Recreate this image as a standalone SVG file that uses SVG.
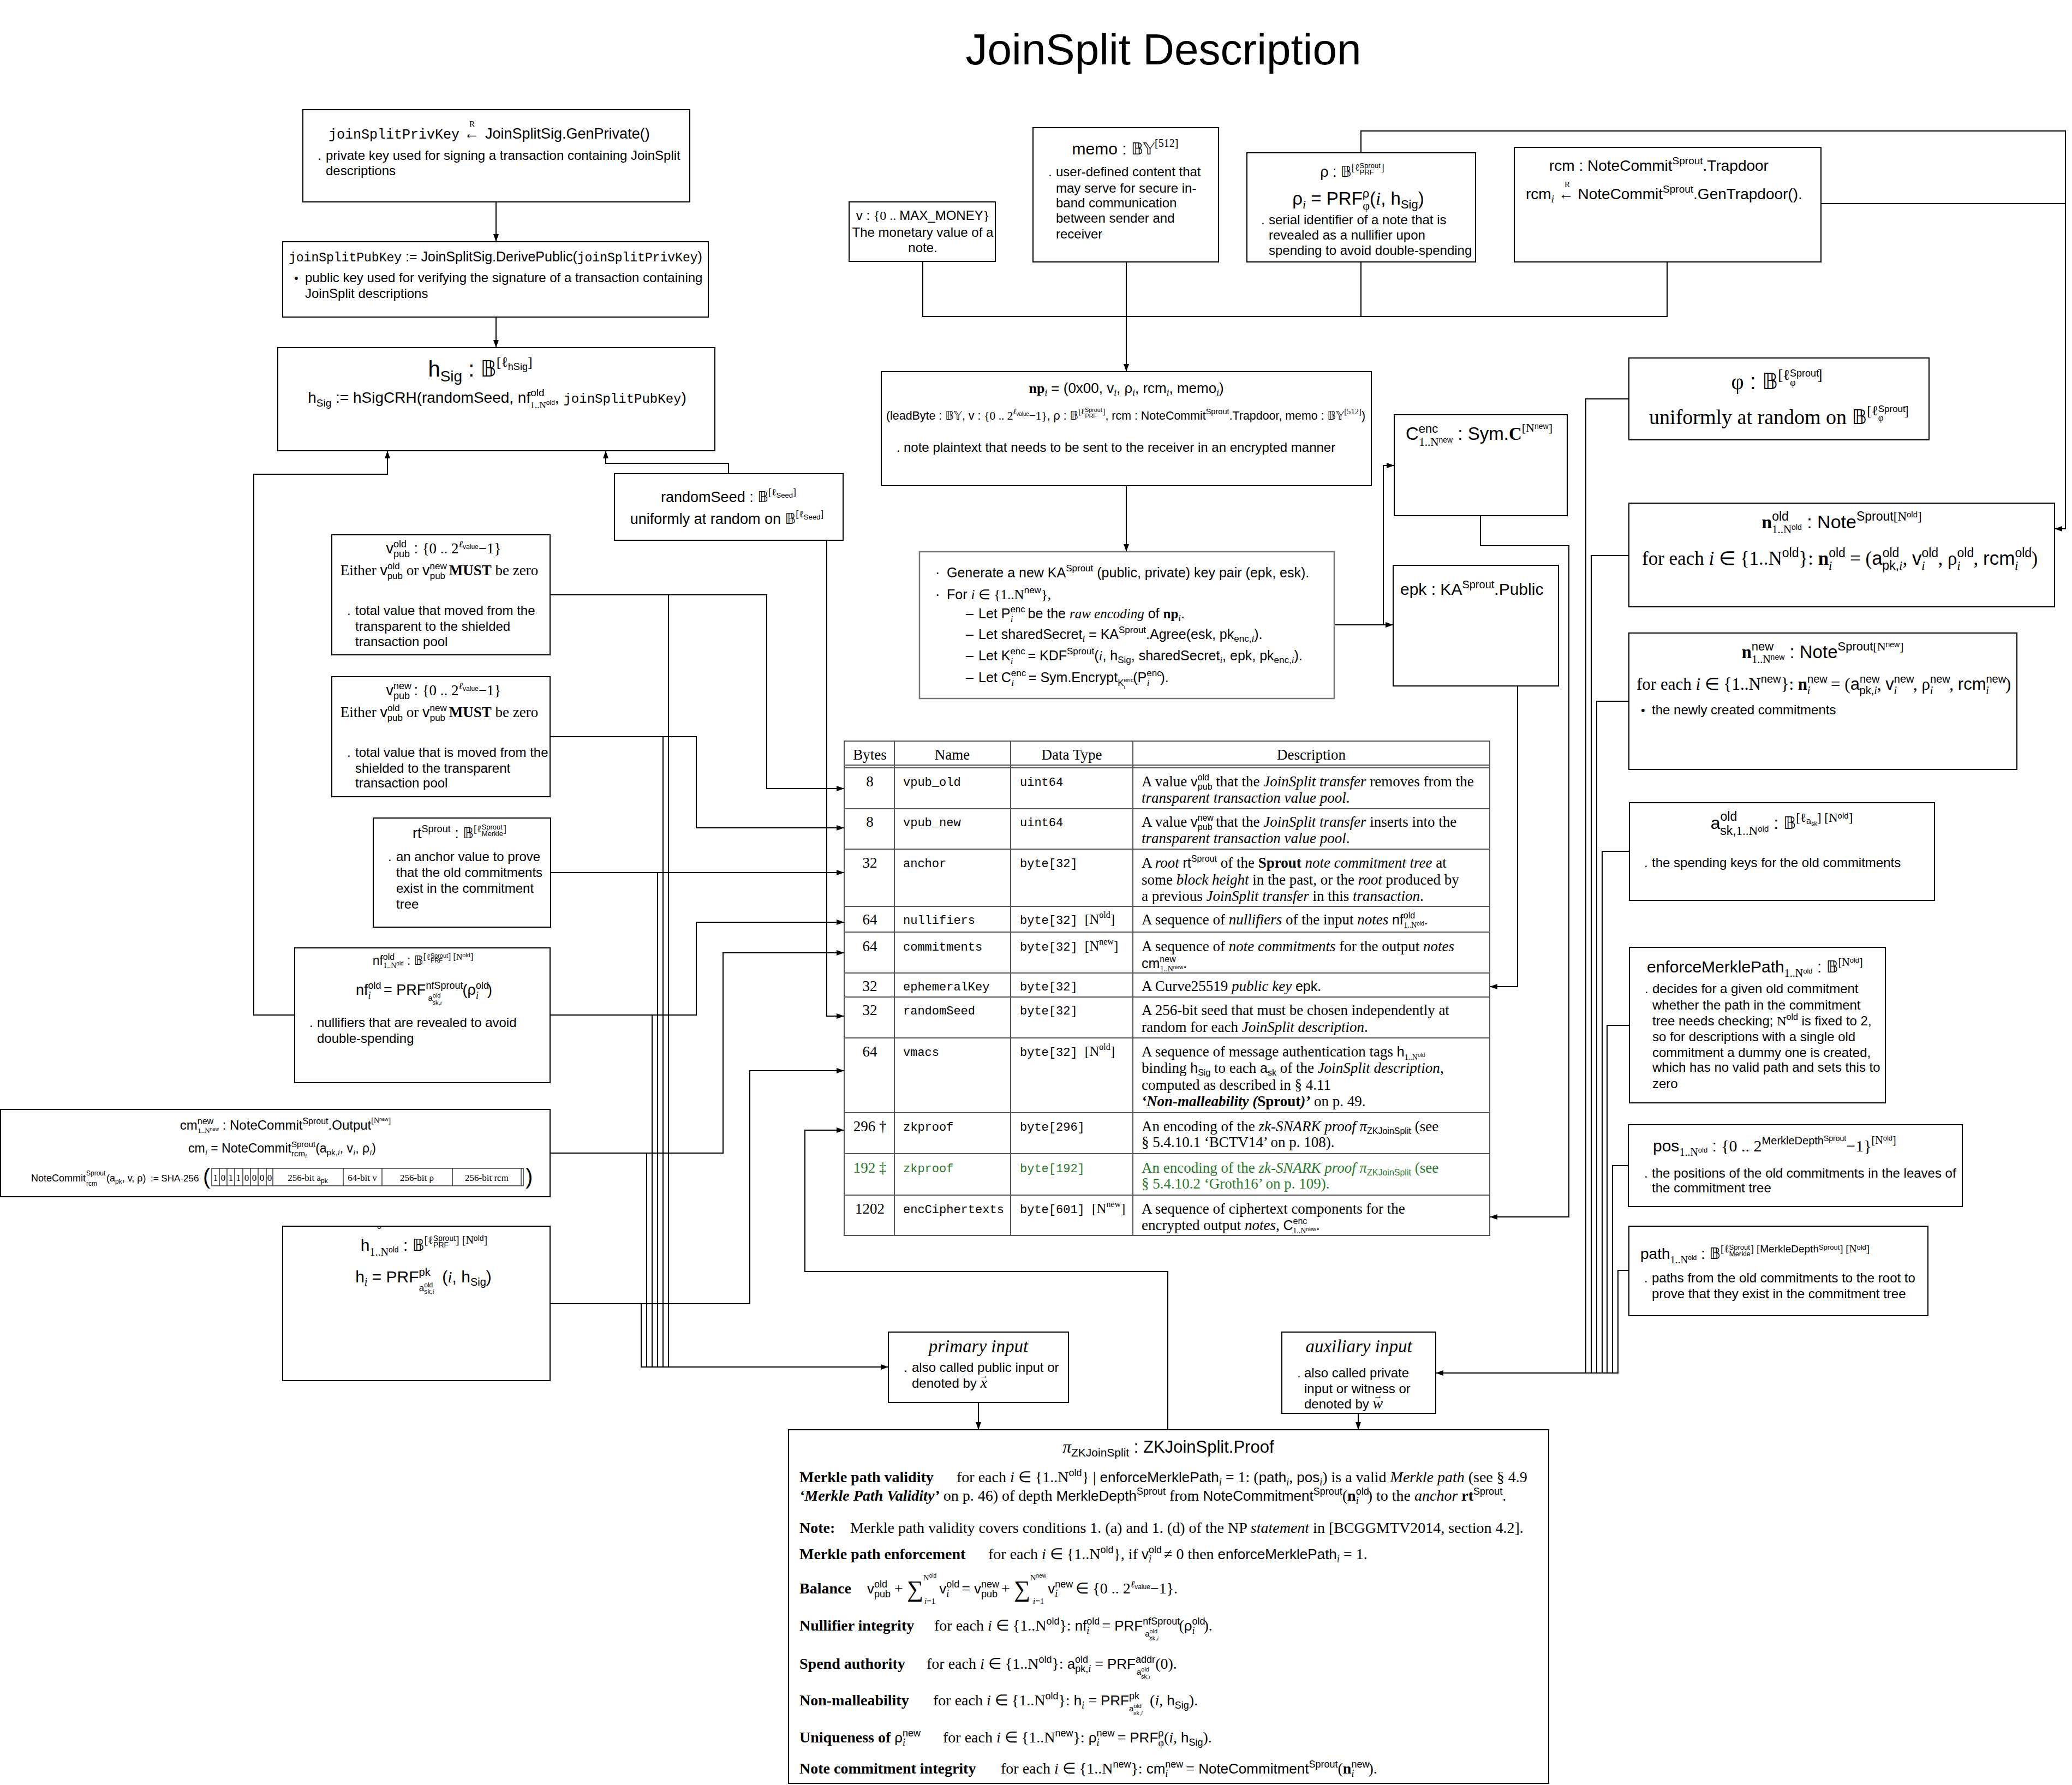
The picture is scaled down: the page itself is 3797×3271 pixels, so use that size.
<svg xmlns="http://www.w3.org/2000/svg" width="3797" height="3271" viewBox="0 0 3797 3271">
<defs>
<style>
.box{fill:#fff;stroke:#000;stroke-width:2}
.gbox{fill:#fff;stroke:#777;stroke-width:2.5}
.ln{fill:none;stroke:#000;stroke-width:2}
.tl{fill:none;stroke:#555;stroke-width:2}
.s{font-family:"Liberation Sans",Arial,sans-serif}
.r{font-family:"Liberation Serif","Times New Roman",serif}
.mo{font-family:"Liberation Mono","Courier New",monospace}
.ds{font-family:"DejaVu Sans","Noto Sans",sans-serif}
.it{font-style:italic}
.b{font-weight:bold}
.g{fill:#2b7a2b}
</style>
<marker id="ah" markerUnits="userSpaceOnUse" markerWidth="14" markerHeight="10" refX="14" refY="5" orient="auto"><path d="M0,0L14,5L0,10z" fill="#000"/></marker>
</defs>
<rect x="0" y="0" width="3797" height="3271" fill="#fff"/>
<text class="s" x="2132" y="118" text-anchor="middle" font-size="80">JoinSplit Description</text>

<g id="connectors">
<polyline class="ln" points="909,370 909,443" marker-end="url(#ah)"/>
<polyline class="ln" points="909,581 909,637" marker-end="url(#ah)"/>
<polyline class="ln" points="1691,480 1691,580 3055,580 3055,480"/>
<polyline class="ln" points="2494,480 2494,580"/>
<polyline class="ln" points="2064,480 2064,681" marker-end="url(#ah)"/>
<polyline class="ln" points="2494,280 2494,240 3785,240 3785,969 3765,969" marker-end="url(#ah)"/>
<polyline class="ln" points="3337,373 3785,373"/>
<polyline class="ln" points="2064,890 2064,1011" marker-end="url(#ah)"/>
<polyline class="ln" points="2445,1145 2553,1145" marker-end="url(#ah)"/>
<polyline class="ln" points="2535,1145 2535,853 2555,853" marker-end="url(#ah)"/>
<polyline class="ln" points="2713,945 2713,1000 2875,1000 2875,2230 2730,2230" marker-end="url(#ah)"/>
<polyline class="ln" points="2781,1257 2781,1808 2730,1808" marker-end="url(#ah)"/>
<polyline class="ln" points="540,1860 465,1860 465,869 710,869 710,826" marker-end="url(#ah)"/>
<polyline class="ln" points="1335,868 1335,849 1110,849 1110,826" marker-end="url(#ah)"/>
<polyline class="ln" points="1008,1090 1405,1090 1405,1445 1547,1445" marker-end="url(#ah)"/>
<polyline class="ln" points="1008,1350 1276,1350 1276,1517 1547,1517" marker-end="url(#ah)"/>
<polyline class="ln" points="1008,1599 1547,1599" marker-end="url(#ah)"/>
<polyline class="ln" points="1008,1860 1276,1860 1276,1690 1547,1690" marker-end="url(#ah)"/>
<polyline class="ln" points="1008,2113 1325,2113 1325,1746 1547,1746" marker-end="url(#ah)"/>
<polyline class="ln" points="1515,990 1515,1862 1547,1862" marker-end="url(#ah)"/>
<polyline class="ln" points="1008,2389 1374,2389 1374,1962 1547,1962" marker-end="url(#ah)"/>
<polyline class="ln" points="2140,2620 2140,2330 1475,2330 1475,2071 1547,2071" marker-end="url(#ah)"/>
<polyline class="ln" points="1225,1090 1225,2505"/>
<polyline class="ln" points="1215,1350 1215,2505"/>
<polyline class="ln" points="1205,1599 1205,2505"/>
<polyline class="ln" points="1195,1860 1195,2505"/>
<polyline class="ln" points="1185,2113 1185,2505"/>
<polyline class="ln" points="1175,2389 1175,2505 1628,2505" marker-end="url(#ah)"/>
<polyline class="ln" points="1793,2570 1793,2620" marker-end="url(#ah)"/>
<polyline class="ln" points="2489,2590 2489,2620" marker-end="url(#ah)"/>
<polyline class="ln" points="2985,731 2906,731 2906,2516"/>
<polyline class="ln" points="2985,1018 2916,1018 2916,2516"/>
<polyline class="ln" points="2985,1285 2926,1285 2926,2516"/>
<polyline class="ln" points="2986,1560 2936,1560 2936,2516"/>
<polyline class="ln" points="2986,1879 2945,1879 2945,2516"/>
<polyline class="ln" points="2984,2136 2955,2136 2955,2516"/>
<polyline class="ln" points="2985,2328 2965,2328 2965,2516 2631,2516" marker-end="url(#ah)"/>
</g>

<g id="privkey">
<rect class="box" x="555" y="201" width="709" height="169"/>
<text class="mo" x="602" y="254" font-size="25">joinSplitPrivKey</text>
<text class="s" x="850" y="254" font-size="28">←</text>
<text class="r" x="860" y="232" font-size="15">R</text>
<text class="s" x="889" y="254" font-size="27">JoinSplitSig.GenPrivate()</text>
<text class="s" x="582" y="293" font-size="24">.</text>
<text class="s" x="597" y="293" font-size="24">private key used for signing a transaction containing JoinSplit</text>
<text class="s" x="597" y="321" font-size="24">descriptions</text>
</g>

<g id="pubkey">
<rect class="box" x="518" y="443" width="780" height="138"/>
<text class="s" x="529" y="479" font-size="25"><tspan class="mo" font-size="23">joinSplitPubKey</tspan> := JoinSplitSig.DerivePublic(<tspan class="mo" font-size="23">joinSplitPrivKey</tspan>)</text>
<text class="s" x="539" y="517" font-size="22">•</text>
<text class="s" x="559" y="517" font-size="24">public key used for verifying the signature of a transaction containing</text>
<text class="s" x="559" y="546" font-size="24">JoinSplit descriptions</text>
</g>

<g id="hsig">
<rect class="box" x="509" y="637" width="801" height="189"/>
<text class="s" x="880" y="690" text-anchor="middle" font-size="40">h<tspan font-size="28" dy="9">Sig</tspan><tspan dy="-9"> : </tspan><tspan class="ds">𝔹</tspan><tspan class="r" font-size="26" dy="-18">[ℓ</tspan><tspan font-size="18" dy="6">hSig</tspan><tspan class="r" font-size="26" dy="-6">]</tspan></text>
<text class="s" x="911" y="738" text-anchor="middle" font-size="28">h<tspan font-size="19" dy="7">Sig</tspan><tspan dy="-7"> := hSigCRH(randomSeed, nf</tspan><tspan font-size="19" dy="-12">old</tspan><tspan class="r" font-size="17" dx="-26" dy="22">1..N</tspan><tspan font-size="12" dy="-6">old</tspan><tspan dy="-4">, </tspan><tspan class="mo" font-size="24">joinSplitPubKey</tspan>)</text>
</g>

<g id="randomseed">
<rect class="box" x="1126" y="868" width="419" height="122"/>
<text class="s" x="1335" y="920" text-anchor="middle" font-size="27">randomSeed : <tspan class="ds">𝔹</tspan><tspan class="r" font-size="18" dy="-12">[ℓ</tspan><tspan font-size="13" dy="4">Seed</tspan><tspan class="r" font-size="18" dy="-4">]</tspan></text>
<text class="s" x="1332" y="960" text-anchor="middle" font-size="27">uniformly at random on <tspan class="ds">𝔹</tspan><tspan class="r" font-size="18" dy="-12">[ℓ</tspan><tspan font-size="13" dy="4">Seed</tspan><tspan class="r" font-size="18" dy="-4">]</tspan></text>
</g>

<g id="vpubold">
<rect class="box" x="608" y="980" width="400" height="220"/>
<text class="s" x="813" y="1014" text-anchor="middle" font-size="27">v<tspan font-size="18" dy="-11">old</tspan><tspan font-size="18" dx="-24" dy="18">pub</tspan><tspan dy="-7"> : </tspan><tspan class="r">{0 .. 2</tspan><tspan class="r it" font-size="18" dy="-11">ℓ</tspan><tspan font-size="12" dy="3">value</tspan><tspan class="r" dy="8">−1}</tspan></text>
<text class="r" x="805" y="1054" text-anchor="middle" font-size="27">Either <tspan class="s">v</tspan><tspan class="s" font-size="17" dy="-11">old</tspan><tspan class="s" font-size="17" dx="-23" dy="18">pub</tspan><tspan dy="-7"> or </tspan><tspan class="s">v</tspan><tspan class="s" font-size="17" dy="-11">new</tspan><tspan class="s" font-size="17" dx="-31" dy="18">pub</tspan><tspan dy="-7"> </tspan><tspan class="b">MUST</tspan> be zero</text>
<text class="s" x="636" y="1127" font-size="24">.</text>
<text class="s" x="651" y="1127" font-size="24">total value that moved from the</text>
<text class="s" x="651" y="1156" font-size="24">transparent to the shielded</text>
<text class="s" x="651" y="1184" font-size="24">transaction pool</text>
</g>

<g id="vpubnew">
<rect class="box" x="608" y="1240" width="400" height="220"/>
<text class="s" x="813" y="1274" text-anchor="middle" font-size="27">v<tspan font-size="18" dy="-11">new</tspan><tspan font-size="18" dx="-33" dy="18">pub</tspan><tspan dy="-7"> : </tspan><tspan class="r">{0 .. 2</tspan><tspan class="r it" font-size="18" dy="-11">ℓ</tspan><tspan font-size="12" dy="3">value</tspan><tspan class="r" dy="8">−1}</tspan></text>
<text class="r" x="805" y="1314" text-anchor="middle" font-size="27">Either <tspan class="s">v</tspan><tspan class="s" font-size="17" dy="-11">old</tspan><tspan class="s" font-size="17" dx="-23" dy="18">pub</tspan><tspan dy="-7"> or </tspan><tspan class="s">v</tspan><tspan class="s" font-size="17" dy="-11">new</tspan><tspan class="s" font-size="17" dx="-31" dy="18">pub</tspan><tspan dy="-7"> </tspan><tspan class="b">MUST</tspan> be zero</text>
<text class="s" x="636" y="1387" font-size="24">.</text>
<text class="s" x="651" y="1387" font-size="24">total value that is moved from the</text>
<text class="s" x="651" y="1416" font-size="24">shielded to the transparent</text>
<text class="s" x="651" y="1443" font-size="24">transaction pool</text>
</g>

<g id="rt">
<rect class="box" x="684" y="1499" width="325" height="200"/>
<text class="s" x="842" y="1536" text-anchor="middle" font-size="27">rt<tspan font-size="18" dy="-11">Sprout</tspan><tspan dy="11"> : </tspan><tspan class="ds">𝔹</tspan><tspan class="r" font-size="18" dy="-11">[ℓ</tspan><tspan font-size="13" dy="-5">Sprout</tspan><tspan font-size="13" dx="-38" dy="12">Merkle</tspan><tspan class="r" font-size="18" dy="-7">]</tspan></text>
<text class="s" x="711" y="1578" font-size="24">.</text>
<text class="s" x="726" y="1578" font-size="24">an anchor value to prove</text>
<text class="s" x="726" y="1607" font-size="24">that the old commitments</text>
<text class="s" x="726" y="1636" font-size="24">exist in the commitment</text>
<text class="s" x="726" y="1665" font-size="24">tree</text>
</g>

<g id="nf">
<rect class="box" x="540" y="1737" width="468" height="247"/>
<text class="s" x="775" y="1768" text-anchor="middle" font-size="23">nf<tspan font-size="16" dy="-9">old</tspan><tspan class="r" font-size="14" dx="-21" dy="15">1..N</tspan><tspan font-size="10" dy="-5">old</tspan><tspan dy="-1"> : </tspan><tspan class="ds">𝔹</tspan><tspan class="r" font-size="16" dy="-9">[ℓ</tspan><tspan font-size="11" dy="-4">Sprout</tspan><tspan font-size="11" dx="-32" dy="9">PRF</tspan><tspan class="r" font-size="16" dx="10" dy="-5">] [N</tspan><tspan font-size="11" dy="-5">old</tspan><tspan class="r" font-size="16" dy="5">]</tspan></text>
<text class="s" x="777" y="1823" text-anchor="middle" font-size="27">nf<tspan font-size="18" dy="-11">old</tspan><tspan class="r it" font-size="18" dx="-24" dy="18">i</tspan><tspan dx="16" dy="-7"> = PRF</tspan><tspan font-size="18" dy="-11">nfSprout</tspan><tspan font-size="15" dx="-64" dy="22">a</tspan><tspan font-size="11" dy="-6">old</tspan><tspan font-size="11" dx="-15" dy="13">sk,</tspan><tspan class="r it" font-size="11">i</tspan><tspan dx="38" dy="-18">(ρ</tspan><tspan font-size="18" dy="-11">old</tspan><tspan class="r it" font-size="18" dx="-24" dy="18">i</tspan><tspan dx="16" dy="-7">)</tspan></text>
<text class="s" x="567" y="1882" font-size="24">.</text>
<text class="s" x="581" y="1882" font-size="24">nullifiers that are revealed to avoid</text>
<text class="s" x="581" y="1911" font-size="24">double-spending</text>
</g>

<g id="cm">
<rect class="box" x="1" y="2033" width="1007" height="160"/>
<text class="s" x="523" y="2070" text-anchor="middle" font-size="24">cm<tspan font-size="16" dy="-10">new</tspan><tspan class="r" font-size="13" dx="-29" dy="16">1..N</tspan><tspan font-size="9" dy="-4">new</tspan><tspan dy="-2"> : NoteCommit</tspan><tspan font-size="16" dy="-10">Sprout</tspan><tspan dy="10">.Output</tspan><tspan class="r" font-size="14" dy="-12">[N</tspan><tspan font-size="9" dy="-4">new</tspan><tspan class="r" font-size="14" dy="4">]</tspan></text>
<text class="s" x="517" y="2112" text-anchor="middle" font-size="23">cm<tspan class="r it" font-size="15" dy="5">i</tspan><tspan dy="-5"> = NoteCommit</tspan><tspan font-size="15" dy="-10">Sprout</tspan><tspan font-size="15" dx="-44" dy="17">rcm</tspan><tspan class="r it" font-size="11" dy="3">i</tspan><tspan dx="16" dy="-10">(a</tspan><tspan font-size="15" dy="5">pk,</tspan><tspan class="r it" font-size="15">i</tspan><tspan dy="-5">, v</tspan><tspan class="r it" font-size="15" dy="5">i</tspan><tspan dy="-5">, ρ</tspan><tspan class="r it" font-size="15" dy="5">i</tspan><tspan dy="-5">)</tspan></text>
<text class="s" x="57" y="2165" font-size="18">NoteCommit</text>
<text class="s" x="158" y="2154" font-size="12">Sprout</text>
<text class="s" x="158" y="2173" font-size="12">rcm</text>
<text class="s" x="195" y="2165" font-size="18">(a<tspan font-size="12" dy="4">pk</tspan><tspan dy="-4">, v, ρ)</tspan></text>
<text class="s" x="276" y="2165" font-size="17">:= SHA-256</text>
<text class="s" x="372" y="2170" font-size="40">(</text>
<rect x="388" y="2141" width="571" height="32" fill="none" stroke="#333" stroke-width="1.5"/>
<path d="M402,2141V2173M416,2141V2173M430,2141V2173M445,2141V2173M459,2141V2173M473,2141V2173M488,2141V2173M500,2141V2173M629,2141V2173M700,2141V2173M829,2141V2173M955,2141V2173" stroke="#333" stroke-width="1.5" fill="none"/>
<g class="r" font-size="17" text-anchor="middle">
<text x="395" y="2164">1</text><text x="409" y="2164">0</text><text x="423" y="2164">1</text><text x="437" y="2164">1</text><text x="452" y="2164">0</text><text x="466" y="2164">0</text><text x="480" y="2164">0</text><text x="494" y="2164">0</text>
<text x="564" y="2164">256-bit a<tspan class="s" font-size="12" dy="4">pk</tspan></text>
<text x="664" y="2164">64-bit v</text>
<text x="764" y="2164">256-bit ρ</text>
<text x="892" y="2164">256-bit rcm</text>
</g>
<text class="s" x="963" y="2170" font-size="40">)</text>
</g>

<g id="h">
<rect class="box" x="518" y="2247" width="490" height="283"/>
<text class="s" x="692" y="2264" font-size="20">˘</text>
<text class="s" x="777" y="2292" text-anchor="middle" font-size="30">h<tspan class="r" font-size="20" dy="9">1..N</tspan><tspan font-size="14" dy="-6">old</tspan><tspan dy="-3"> : </tspan><tspan class="ds">𝔹</tspan><tspan class="r" font-size="20" dy="-13">[ℓ</tspan><tspan font-size="14" dy="-5">Sprout</tspan><tspan font-size="14" dx="-41" dy="12">PRF</tspan><tspan class="r" font-size="20" dx="13" dy="-7">] [N</tspan><tspan font-size="14" dy="-5">old</tspan><tspan class="r" font-size="20" dy="5">]</tspan></text>
<text class="s" x="776" y="2350" text-anchor="middle" font-size="30">h<tspan class="r it" font-size="20" dy="6">i</tspan><tspan dy="-6"> = PRF</tspan><tspan font-size="20" dy="-12">pk</tspan><tspan font-size="17" dx="-21" dy="28">a</tspan><tspan font-size="12" dy="-7">old</tspan><tspan font-size="12" dx="-16" dy="12">sk,</tspan><tspan class="r it" font-size="12">i</tspan><tspan dx="6" dy="-21"> (</tspan><tspan class="r it">i</tspan>, h<tspan font-size="20" dy="6">Sig</tspan><tspan dy="-6">)</tspan></text>
</g>

<g id="v">
<rect class="box" x="1556" y="370" width="268" height="109"/>
<text class="s" x="1691" y="403" text-anchor="middle" font-size="24">v : <tspan class="r">{0 .. </tspan>MAX_MONEY<tspan class="r">}</tspan></text>
<text class="s" x="1691" y="434" text-anchor="middle" font-size="24">The monetary value of a</text>
<text class="s" x="1691" y="462" text-anchor="middle" font-size="24">note.</text>
</g>

<g id="memo">
<rect class="box" x="1893" y="234" width="340" height="246"/>
<text class="s" x="2062" y="283" text-anchor="middle" font-size="30">memo : <tspan class="ds">𝔹𝕐</tspan><tspan class="r" font-size="20" dy="-14">[512]</tspan></text>
<text class="s" x="1921" y="323" font-size="24">.</text>
<text class="s" x="1935" y="323" font-size="24">user-defined content that</text>
<text class="s" x="1935" y="353" font-size="24">may serve for secure in-</text>
<text class="s" x="1935" y="380" font-size="24">band communication</text>
<text class="s" x="1935" y="408" font-size="24">between sender and</text>
<text class="s" x="1935" y="437" font-size="24">receiver</text>
</g>

<g id="rho">
<rect class="box" x="2285" y="280" width="419" height="200"/>
<text class="s" x="2478" y="324" text-anchor="middle" font-size="27">ρ : <tspan class="ds">𝔹</tspan><tspan class="r" font-size="18" dy="-11">[ℓ</tspan><tspan font-size="13" dy="-5">Sprout</tspan><tspan font-size="13" dx="-38" dy="12">PRF</tspan><tspan class="r" font-size="18" dx="13" dy="-7">]</tspan></text>
<text class="s" x="2489" y="375" text-anchor="middle" font-size="33">ρ<tspan class="r it" font-size="22" dy="7">i</tspan><tspan dy="-7"> = PRF</tspan><tspan font-size="22" dy="-13">ρ</tspan><tspan class="r" font-size="22" dx="-12" dy="22">φ</tspan><tspan dy="-9">(</tspan><tspan class="r it">i</tspan>, h<tspan font-size="22" dy="7">Sig</tspan><tspan dy="-7">)</tspan></text>
<text class="s" x="2311" y="411" font-size="24">.</text>
<text class="s" x="2325" y="411" font-size="24">serial identifier of a note that is</text>
<text class="s" x="2325" y="439" font-size="24">revealed as a nullifier upon</text>
<text class="s" x="2325" y="467" font-size="24">spending to avoid double-spending</text>
</g>

<g id="rcm">
<rect class="box" x="2775" y="270" width="562" height="210"/>
<text class="s" x="3040" y="313" text-anchor="middle" font-size="28">rcm : NoteCommit<tspan font-size="19" dy="-12">Sprout</tspan><tspan dy="12">.Trapdoor</tspan></text>
<text class="s" x="2796" y="365" font-size="28">rcm<tspan class="r it" font-size="19" dy="6">i</tspan><tspan dy="-6"> ← NoteCommit</tspan><tspan font-size="19" dy="-12">Sprout</tspan><tspan dy="12">.GenTrapdoor().</tspan></text>
<text class="r" x="2867" y="343" font-size="15">R</text>
</g>

<g id="np">
<rect class="box" x="1615" y="681" width="898" height="209"/>
<text class="s" x="2064" y="720" text-anchor="middle" font-size="26"><tspan class="r b">np</tspan><tspan class="r it" font-size="17" dy="5">i</tspan><tspan dy="-5"> = (0x00, v</tspan><tspan class="r it" font-size="17" dy="5">i</tspan><tspan dy="-5">, ρ</tspan><tspan class="r it" font-size="17" dy="5">i</tspan><tspan dy="-5">, rcm</tspan><tspan class="r it" font-size="17" dy="5">i</tspan><tspan dy="-5">, memo</tspan><tspan class="r it" font-size="17" dy="5">i</tspan><tspan dy="-5">)</tspan></text>
<text class="s" x="1624" y="769" font-size="22" textLength="878" lengthAdjust="spacingAndGlyphs">(leadByte : <tspan class="ds">𝔹𝕐</tspan>, v : <tspan class="r">{0 .. 2</tspan><tspan class="r it" font-size="15" dy="-10">ℓ</tspan><tspan font-size="10" dy="3">value</tspan><tspan class="r" dy="7">−1}</tspan>, ρ : <tspan class="ds">𝔹</tspan><tspan class="r" font-size="15" dy="-10">[ℓ</tspan><tspan font-size="11" dy="-4">Sprout</tspan><tspan font-size="11" dx="-32" dy="11">PRF</tspan><tspan class="r" font-size="15" dx="11" dy="-7">]</tspan><tspan dy="10">, rcm : NoteCommit</tspan><tspan font-size="15" dy="-10">Sprout</tspan><tspan dy="10">.Trapdoor, memo : </tspan><tspan class="ds">𝔹𝕐</tspan><tspan class="r" font-size="15" dy="-10">[512]</tspan><tspan dy="10">)</tspan></text>
<text class="s" x="1643" y="828" font-size="24">.</text>
<text class="s" x="1656" y="828" font-size="24">note plaintext that needs to be sent to the receiver in an encrypted manner</text>
</g>

<g id="ka">
<rect class="gbox" x="1685" y="1011" width="760" height="269"/>
<text class="s" x="1714" y="1058" font-size="25">·</text>
<text class="s" x="1735" y="1058" font-size="25">Generate a new KA<tspan font-size="17" dy="-11">Sprout</tspan><tspan dy="11"> (public, private) key pair (epk, esk).</tspan></text>
<text class="s" x="1714" y="1098" font-size="25">·</text>
<text class="s" x="1735" y="1098" font-size="25">For <tspan class="r it">i</tspan> <tspan class="r">∈ {1..N</tspan><tspan font-size="17" dy="-11">new</tspan><tspan class="r" dy="11">},</tspan></text>
<text class="s" x="1770" y="1133" font-size="25">–</text>
<text class="s" x="1793" y="1133" font-size="25">Let P<tspan font-size="17" dy="-11">enc</tspan><tspan class="r it" font-size="17" dx="-27" dy="18">i</tspan><tspan dx="20" dy="-7"> be the </tspan><tspan class="r it">raw encoding</tspan> of <tspan class="r b">np</tspan><tspan class="r it" font-size="17" dy="5">i</tspan><tspan dy="-5">.</tspan></text>
<text class="s" x="1770" y="1171" font-size="25">–</text>
<text class="s" x="1793" y="1171" font-size="25">Let sharedSecret<tspan class="r it" font-size="17" dy="5">i</tspan><tspan dy="-5"> = KA</tspan><tspan font-size="17" dy="-11">Sprout</tspan><tspan dy="11">.Agree(esk, pk</tspan><tspan font-size="17" dy="5">enc,</tspan><tspan class="r it" font-size="17">i</tspan><tspan dy="-5">).</tspan></text>
<text class="s" x="1770" y="1210" font-size="25">–</text>
<text class="s" x="1793" y="1210" font-size="25">Let K<tspan font-size="17" dy="-11">enc</tspan><tspan class="r it" font-size="17" dx="-27" dy="18">i</tspan><tspan dx="20" dy="-7"> = KDF</tspan><tspan font-size="17" dy="-11">Sprout</tspan><tspan dy="11">(</tspan><tspan class="r it">i</tspan>, h<tspan font-size="17" dy="5">Sig</tspan><tspan dy="-5">, sharedSecret</tspan><tspan class="r it" font-size="17" dy="5">i</tspan><tspan dy="-5">, epk, pk</tspan><tspan font-size="17" dy="5">enc,</tspan><tspan class="r it" font-size="17">i</tspan><tspan dy="-5">).</tspan></text>
<text class="s" x="1770" y="1250" font-size="25">–</text>
<text class="s" x="1793" y="1250" font-size="25">Let C<tspan font-size="17" dy="-11">enc</tspan><tspan class="r it" font-size="17" dx="-27" dy="18">i</tspan><tspan dx="20" dy="-7"> = Sym.Encrypt</tspan><tspan font-size="17" dy="7">K</tspan><tspan font-size="11" dy="-7">enc</tspan><tspan class="r it" font-size="11" dx="-18" dy="12">i</tspan><tspan dx="14" dy="-12">(P</tspan><tspan font-size="17" dy="-11">enc</tspan><tspan class="r it" font-size="17" dx="-27" dy="18">i</tspan><tspan dx="20" dy="-7">).</tspan></text>
</g>

<g id="cenc">
<rect class="box" x="2555" y="760" width="317" height="185"/>
<text class="s" x="2576" y="806" font-size="33">C<tspan font-size="22" dy="-13">enc</tspan><tspan class="r" font-size="21" dx="-35" dy="24">1..N</tspan><tspan font-size="14" dy="-6">new</tspan><tspan dy="-5"> : Sym.</tspan><tspan class="r b">C</tspan><tspan class="r" font-size="22" dy="-15">[N</tspan><tspan font-size="14" dy="-5">new</tspan><tspan class="r" font-size="22" dy="5">]</tspan></text>
</g>

<g id="epk">
<rect class="box" x="2553" y="1036" width="303" height="221"/>
<text class="s" x="2566" y="1090" font-size="30">epk : KA<tspan font-size="20" dy="-12">Sprout</tspan><tspan dy="12">.Public</tspan></text>
</g>

<g id="phi">
<rect class="box" x="2985" y="656" width="550" height="150"/>
<text class="s" x="3256" y="713" text-anchor="middle" font-size="40"><tspan class="r">φ</tspan> : <tspan class="ds">𝔹</tspan><tspan class="r" font-size="27" dy="-17">[ℓ</tspan><tspan font-size="18" dy="-6">Sprout</tspan><tspan class="r" font-size="18" dx="-53" dy="17">φ</tspan><tspan class="r" font-size="27" dx="40" dy="-11">]</tspan></text>
<text class="r" x="3260" y="777" text-anchor="middle" font-size="38">uniformly at random on <tspan class="ds">𝔹</tspan><tspan font-size="25" dy="-16">[ℓ</tspan><tspan class="s" font-size="17" dy="-6">Sprout</tspan><tspan font-size="17" dx="-50" dy="16">φ</tspan><tspan font-size="25" dx="38" dy="-10">]</tspan></text>
</g>

<g id="nold">
<rect class="box" x="2985" y="922" width="780" height="190"/>
<text class="s" x="3375" y="968" text-anchor="middle" font-size="34"><tspan class="r b">n</tspan><tspan font-size="23" dy="-14">old</tspan><tspan class="r" font-size="21" dx="-31" dy="23">1..N</tspan><tspan font-size="14" dy="-6">old</tspan><tspan dy="-3"> : Note</tspan><tspan font-size="23" dy="-14">Sprout</tspan><tspan class="r" font-size="23">[N</tspan><tspan font-size="15" dy="-6">old</tspan><tspan class="r" font-size="23" dy="6">]</tspan></text>
<text class="r" x="3009" y="1035" font-size="35">for each <tspan class="it">i</tspan> ∈ {1..N<tspan class="s" font-size="23" dy="-14">old</tspan><tspan dy="14">}: </tspan><tspan class="b">n</tspan><tspan class="s" font-size="23" dy="-14">old</tspan><tspan class="it" font-size="23" dx="-31" dy="23">i</tspan><tspan dx="24" dy="-9"> = (</tspan><tspan class="s">a</tspan><tspan class="s" font-size="23" dy="-14">old</tspan><tspan class="s" font-size="23" dx="-31" dy="23">pk,</tspan><tspan class="it" font-size="23">i</tspan><tspan dy="-9">, </tspan><tspan class="s">v</tspan><tspan class="s" font-size="23" dy="-14">old</tspan><tspan class="it" font-size="23" dx="-31" dy="23">i</tspan><tspan dx="24" dy="-9">, ρ</tspan><tspan class="s" font-size="23" dy="-14">old</tspan><tspan class="it" font-size="23" dx="-31" dy="23">i</tspan><tspan dx="24" dy="-9">, </tspan><tspan class="s">rcm</tspan><tspan class="s" font-size="23" dy="-14">old</tspan><tspan class="it" font-size="23" dx="-31" dy="23">i</tspan><tspan dx="24" dy="-9">)</tspan></text>
</g>

<g id="nnew">
<rect class="box" x="2985" y="1160" width="711" height="250"/>
<text class="s" x="3340" y="1206" text-anchor="middle" font-size="33"><tspan class="r b">n</tspan><tspan font-size="22" dy="-14">new</tspan><tspan class="r" font-size="20" dx="-40" dy="23">1..N</tspan><tspan font-size="14" dy="-6">new</tspan><tspan dy="-3"> : Note</tspan><tspan font-size="22" dy="-14">Sprout</tspan><tspan class="r" font-size="22">[N</tspan><tspan font-size="14" dy="-6">new</tspan><tspan class="r" font-size="22" dy="6">]</tspan></text>
<text class="r" x="2999" y="1264" font-size="31">for each <tspan class="it">i</tspan> ∈ {1..N<tspan class="s" font-size="20" dy="-13">new</tspan><tspan dy="13">}: </tspan><tspan class="b">n</tspan><tspan class="s" font-size="20" dy="-13">new</tspan><tspan class="it" font-size="20" dx="-37" dy="21">i</tspan><tspan dx="30" dy="-8"> = (</tspan><tspan class="s">a</tspan><tspan class="s" font-size="20" dy="-13">new</tspan><tspan class="s" font-size="20" dx="-37" dy="21">pk,</tspan><tspan class="it" font-size="20">i</tspan><tspan dy="-8">, </tspan><tspan class="s">v</tspan><tspan class="s" font-size="20" dy="-13">new</tspan><tspan class="it" font-size="20" dx="-37" dy="21">i</tspan><tspan dx="30" dy="-8">, ρ</tspan><tspan class="s" font-size="20" dy="-13">new</tspan><tspan class="it" font-size="20" dx="-37" dy="21">i</tspan><tspan dx="30" dy="-8">, </tspan><tspan class="s">rcm</tspan><tspan class="s" font-size="20" dy="-13">new</tspan><tspan class="it" font-size="20" dx="-37" dy="21">i</tspan><tspan dx="30" dy="-8">)</tspan></text>
<text class="s" x="3007" y="1309" font-size="22">•</text>
<text class="s" x="3027" y="1309" font-size="24">the newly created commitments</text>
</g>

<g id="ask">
<rect class="box" x="2986" y="1471" width="559" height="179"/>
<text class="s" x="3265" y="1519" text-anchor="middle" font-size="32">a<tspan font-size="23" dy="-15">old</tspan><tspan font-size="23" dx="-31" dy="26">sk,</tspan><tspan class="r" font-size="23">1..N</tspan><tspan font-size="15" dy="-6">old</tspan><tspan dy="-5"> : </tspan><tspan class="ds">𝔹</tspan><tspan class="r" font-size="23" dy="-13">[ℓ</tspan><tspan font-size="16" dy="4">a</tspan><tspan font-size="11" dy="3">sk</tspan><tspan class="r" font-size="23" dy="-7">] [N</tspan><tspan font-size="15" dy="-6">old</tspan><tspan class="r" font-size="23" dy="6">]</tspan></text>
<text class="s" x="3013" y="1589" font-size="24">.</text>
<text class="s" x="3027" y="1589" font-size="24">the spending keys for the old commitments</text>
</g>

<g id="enforce">
<rect class="box" x="2986" y="1736" width="469" height="285"/>
<text class="s" x="3018" y="1782" font-size="30">enforceMerklePath<tspan class="r" font-size="20" dy="8">1..N</tspan><tspan font-size="13" dy="-6">old</tspan><tspan dy="-2"> : </tspan><tspan class="ds">𝔹</tspan><tspan class="r" font-size="20" dy="-12">[N</tspan><tspan font-size="13" dy="-6">old</tspan><tspan class="r" font-size="20" dy="6">]</tspan></text>
<text class="s" x="3014" y="1820" font-size="24">.</text>
<text class="s" x="3028" y="1820" font-size="24">decides for a given old commitment</text>
<text class="s" x="3028" y="1850" font-size="24">whether the path in the commitment</text>
<text class="s" x="3028" y="1879" font-size="24">tree needs checking; <tspan class="r">N</tspan><tspan font-size="16" dy="-10">old</tspan><tspan dy="10"> is fixed to 2,</tspan></text>
<text class="s" x="3028" y="1908" font-size="24">so for descriptions with a single old</text>
<text class="s" x="3028" y="1937" font-size="24">commitment a dummy one is created,</text>
<text class="s" x="3028" y="1964" font-size="24">which has no valid path and sets this to</text>
<text class="s" x="3028" y="1994" font-size="24">zero</text>
</g>

<g id="pos">
<rect class="box" x="2984" y="2061" width="612" height="150"/>
<text class="s" x="3029" y="2110" font-size="30">pos<tspan class="r" font-size="20" dy="8">1..N</tspan><tspan font-size="13" dy="-6">old</tspan><tspan dy="-2"> : </tspan><tspan class="r">{0 .. 2</tspan><tspan font-size="20" dy="-13">MerkleDepth</tspan><tspan font-size="14" dy="-6">Sprout</tspan><tspan class="r" dy="19">−1}</tspan><tspan class="r" font-size="20" dy="-14">[N</tspan><tspan font-size="13" dy="-6">old</tspan><tspan class="r" font-size="20" dy="6">]</tspan></text>
<text class="s" x="3013" y="2158" font-size="24">.</text>
<text class="s" x="3027" y="2158" font-size="24">the positions of the old commitments in the leaves of</text>
<text class="s" x="3027" y="2185" font-size="24">the commitment tree</text>
</g>

<g id="path">
<rect class="box" x="2985" y="2247" width="548" height="164"/>
<text class="s" x="3006" y="2307" font-size="28">path<tspan class="r" font-size="19" dy="8">1..N</tspan><tspan font-size="12" dy="-6">old</tspan><tspan dy="-2"> : </tspan><tspan class="ds">𝔹</tspan><tspan class="r" font-size="19" dy="-12">[ℓ</tspan><tspan font-size="13" dy="-5">Sprout</tspan><tspan font-size="13" dx="-38" dy="12">Merkle</tspan><tspan class="r" font-size="19" dy="-7">] [</tspan><tspan font-size="19">MerkleDepth</tspan><tspan font-size="13" dy="-5">Sprout</tspan><tspan class="r" font-size="19" dy="5">] [N</tspan><tspan font-size="13" dy="-5">old</tspan><tspan class="r" font-size="19" dy="5">]</tspan></text>
<text class="s" x="3013" y="2350" font-size="24">.</text>
<text class="s" x="3027" y="2350" font-size="24">paths from the old commitments to the root to</text>
<text class="s" x="3027" y="2379" font-size="24">prove that they exist in the commitment tree</text>
</g>

<g id="table">
<rect class="tl" x="1547" y="1358" width="1183" height="906"/>
<path class="tl" d="M1639,1358V2264M1852,1358V2264M2076,1358V2264M1547,1402H2730M1547,1407H2730M1547,1482H2730M1547,1556H2730M1547,1661H2730M1547,1708H2730M1547,1783H2730M1547,1827H2730M1547,1902H2730M1547,2039H2730M1547,2114H2730M1547,2190H2730"/>
<g class="r" font-size="27" text-anchor="middle">
<text x="1594" y="1392">Bytes</text><text x="1745" y="1392">Name</text><text x="1964" y="1392">Data Type</text><text x="2403" y="1392">Description</text>
<text x="1594" y="1441">8</text><text x="1594" y="1515">8</text><text x="1594" y="1590">32</text><text x="1594" y="1694">64</text><text x="1594" y="1743">64</text><text x="1594" y="1816">32</text><text x="1594" y="1860">32</text><text x="1594" y="1936">64</text><text x="1594" y="2073">296 †</text><text class="g" x="1594" y="2149">192 ‡</text><text x="1594" y="2224">1202</text>
</g>
<g class="mo" font-size="22">
<text x="1655" y="1440">vpub_old</text><text x="1655" y="1514">vpub_new</text><text x="1655" y="1589">anchor</text><text x="1655" y="1693">nullifiers</text><text x="1655" y="1742">commitments</text><text x="1655" y="1815">ephemeralKey</text><text x="1655" y="1859">randomSeed</text><text x="1655" y="1935">vmacs</text><text x="1655" y="2072">zkproof</text><text class="g" x="1655" y="2148">zkproof</text><text x="1655" y="2223">encCiphertexts</text>
<text x="1869" y="1440">uint64</text><text x="1869" y="1514">uint64</text><text x="1869" y="1589">byte[32]</text>
<text x="1869" y="1693">byte[32] <tspan class="r" font-size="25">[N</tspan><tspan class="r" font-size="16" dy="-11">old</tspan><tspan class="r" font-size="25" dy="11">]</tspan></text>
<text x="1869" y="1742">byte[32] <tspan class="r" font-size="25">[N</tspan><tspan class="r" font-size="16" dy="-11">new</tspan><tspan class="r" font-size="25" dy="11">]</tspan></text>
<text x="1869" y="1815">byte[32]</text><text x="1869" y="1859">byte[32]</text>
<text x="1869" y="1935">byte[32] <tspan class="r" font-size="25">[N</tspan><tspan class="r" font-size="16" dy="-11">old</tspan><tspan class="r" font-size="25" dy="11">]</tspan></text>
<text x="1869" y="2072">byte[296]</text><text class="g" x="1869" y="2148">byte[192]</text>
<text x="1869" y="2223">byte[601] <tspan class="r" font-size="25">[N</tspan><tspan class="r" font-size="16" dy="-11">new</tspan><tspan class="r" font-size="25" dy="11">]</tspan></text>
</g>
<g class="r" font-size="27">
<text x="2092" y="1441">A value <tspan class="s" font-size="25">v</tspan><tspan class="s" font-size="16" dy="-11">old</tspan><tspan class="s" font-size="16" dx="-21" dy="17">pub</tspan><tspan dy="-6"> that the </tspan><tspan class="it">JoinSplit transfer</tspan> removes from the</text>
<text class="it" x="2092" y="1471">transparent transaction value pool<tspan font-style="normal">.</tspan></text>
<text x="2092" y="1515">A value <tspan class="s" font-size="25">v</tspan><tspan class="s" font-size="16" dy="-11">new</tspan><tspan class="s" font-size="16" dx="-29" dy="17">pub</tspan><tspan dy="-6"> that the </tspan><tspan class="it">JoinSplit transfer</tspan> inserts into the</text>
<text class="it" x="2092" y="1545">transparent transaction value pool<tspan font-style="normal">.</tspan></text>
<text x="2092" y="1590">A <tspan class="it">root</tspan> <tspan class="s" font-size="25">rt</tspan><tspan class="s" font-size="16" dy="-11">Sprout</tspan><tspan dy="11"> of the </tspan><tspan class="b">Sprout</tspan> <tspan class="it">note commitment tree</tspan> at</text>
<text x="2092" y="1621">some <tspan class="it">block height</tspan> in the past, or the <tspan class="it">root</tspan> produced by</text>
<text x="2092" y="1651">a previous <tspan class="it">JoinSplit transfer</tspan> in this <tspan class="it">transaction</tspan>.</text>
<text x="2092" y="1694">A sequence of <tspan class="it">nullifiers</tspan> of the input <tspan class="it">notes</tspan> <tspan class="s" font-size="25">nf</tspan><tspan class="s" font-size="16" dy="-11">old</tspan><tspan font-size="14" dx="-21" dy="17">1..N</tspan><tspan class="s" font-size="10" dy="-4">old</tspan><tspan dy="-2">.</tspan></text>
<text x="2092" y="1743">A sequence of <tspan class="it">note commitments</tspan> for the output <tspan class="it">notes</tspan></text>
<text x="2092" y="1774"><tspan class="s" font-size="25">cm</tspan><tspan class="s" font-size="16" dy="-11">new</tspan><tspan font-size="14" dx="-29" dy="17">1..N</tspan><tspan class="s" font-size="10" dy="-4">new</tspan><tspan dy="-2">.</tspan></text>
<text x="2092" y="1816">A Curve25519 <tspan class="it">public key</tspan> <tspan class="s" font-size="25">epk</tspan>.</text>
<text x="2092" y="1860">A 256-bit seed that must be chosen independently at</text>
<text x="2092" y="1891">random for each <tspan class="it">JoinSplit description</tspan>.</text>
<text x="2092" y="1936">A sequence of message authentication tags <tspan class="s" font-size="25">h</tspan><tspan font-size="14" dy="6">1..N</tspan><tspan class="s" font-size="10" dy="-5">old</tspan></text>
<text x="2092" y="1966">binding <tspan class="s" font-size="25">h</tspan><tspan class="s" font-size="16" dy="5">Sig</tspan><tspan dy="-5"> to each </tspan><tspan class="s" font-size="25">a</tspan><tspan class="s" font-size="16" dy="5">sk</tspan><tspan dy="-5"> of the </tspan><tspan class="it">JoinSplit description</tspan>,</text>
<text x="2092" y="1997">computed as described in § 4.11</text>
<text x="2092" y="2027"><tspan class="it b">‘Non-malleability (</tspan><tspan class="b">Sprout</tspan><tspan class="it b">)’</tspan> on p. 49.</text>
<text x="2092" y="2073">An encoding of the <tspan class="it">zk-SNARK proof</tspan> <tspan class="it">π</tspan><tspan class="s" font-size="16" dy="5">ZKJoinSplit</tspan><tspan dy="-5"> (see</tspan></text>
<text x="2092" y="2102">§ 5.4.10.1 ‘BCTV14’ on p. 108).</text>
<text class="g" x="2092" y="2149">An encoding of the <tspan class="it">zk-SNARK proof</tspan> <tspan class="it">π</tspan><tspan class="s" font-size="16" dy="5">ZKJoinSplit</tspan><tspan dy="-5"> (see</tspan></text>
<text class="g" x="2092" y="2178">§ 5.4.10.2 ‘Groth16’ on p. 109).</text>
<text x="2092" y="2224">A sequence of ciphertext components for the</text>
<text x="2092" y="2254">encrypted output <tspan class="it">notes</tspan>, <tspan class="s" font-size="25">C</tspan><tspan class="s" font-size="16" dy="-11">enc</tspan><tspan font-size="14" dx="-26" dy="17">1..N</tspan><tspan class="s" font-size="10" dy="-4">new</tspan><tspan dy="-2">.</tspan></text>
</g>
</g>

<g id="primary">
<rect class="box" x="1628" y="2441" width="330" height="129"/>
<text class="r it" x="1793" y="2478" text-anchor="middle" font-size="33">primary input</text>
<text class="s" x="1656" y="2514" font-size="24">.</text>
<text class="s" x="1671" y="2514" font-size="24">also called public input or</text>
<text class="s" x="1671" y="2543" font-size="24">denoted by <tspan class="r it" font-size="28">x</tspan></text>
<text class="s" x="1795" y="2526" font-size="16">→</text>
</g>

<g id="auxiliary">
<rect class="box" x="2349" y="2441" width="282" height="149"/>
<text class="r it" x="2490" y="2478" text-anchor="middle" font-size="33">auxiliary input</text>
<text class="s" x="2377" y="2524" font-size="24">.</text>
<text class="s" x="2390" y="2524" font-size="24">also called private</text>
<text class="s" x="2390" y="2553" font-size="24">input or witness or</text>
<text class="s" x="2390" y="2581" font-size="24">denoted by <tspan class="r it" font-size="28">w</tspan></text>
<text class="s" x="2517" y="2563" font-size="16">→</text>
</g>

<g id="proof">
<rect class="box" x="1445" y="2620" width="1393" height="648"/>
<text class="s" x="2141" y="2662" text-anchor="middle" font-size="31"><tspan class="r it">π</tspan><tspan font-size="21" dy="7">ZKJoinSplit</tspan><tspan dy="-7"> : ZKJoinSplit.Proof</tspan></text>
<g class="r" font-size="28">
<text class="b" x="1465" y="2716">Merkle path validity</text>
<text x="1753" y="2716">for each <tspan class="it">i</tspan> ∈ {1..N<tspan class="s" font-size="18" dy="-11">old</tspan><tspan dy="11">} | </tspan><tspan class="s" font-size="26">enforceMerklePath</tspan><tspan class="it" font-size="18" dy="6">i</tspan><tspan dy="-6"> = 1: (</tspan><tspan class="s" font-size="26">path</tspan><tspan class="it" font-size="18" dy="6">i</tspan><tspan dy="-6">, </tspan><tspan class="s" font-size="26">pos</tspan><tspan class="it" font-size="18" dy="6">i</tspan><tspan dy="-6">) is a valid </tspan><tspan class="it">Merkle path</tspan> (see § 4.9</text>
<text x="1465" y="2750"><tspan class="it b">‘Merkle Path Validity’</tspan> on p. 46) of depth <tspan class="s" font-size="26">MerkleDepth</tspan><tspan class="s" font-size="18" dy="-11">Sprout</tspan><tspan dy="11"> from </tspan><tspan class="s" font-size="26">NoteCommitment</tspan><tspan class="s" font-size="18" dy="-11">Sprout</tspan><tspan dy="11">(</tspan><tspan class="b">n</tspan><tspan class="s" font-size="18" dy="-11">old</tspan><tspan class="it" font-size="18" dx="-24" dy="17">i</tspan><tspan dx="16" dy="-6">) to the </tspan><tspan class="it">anchor</tspan> <tspan class="b">rt</tspan><tspan class="s" font-size="18" dy="-11">Sprout</tspan><tspan dy="11">.</tspan></text>
<text class="b" x="1465" y="2809">Note:</text>
<text x="1558" y="2809">Merkle path validity covers conditions 1. (a) and 1. (d) of the NP <tspan class="it">statement</tspan> in [BCGGMTV2014, section 4.2].</text>
<text class="b" x="1465" y="2857">Merkle path enforcement</text>
<text x="1811" y="2857">for each <tspan class="it">i</tspan> ∈ {1..N<tspan class="s" font-size="18" dy="-11">old</tspan><tspan dy="11">}, if </tspan><tspan class="s" font-size="26">v</tspan><tspan class="s" font-size="18" dy="-11">old</tspan><tspan class="it" font-size="18" dx="-24" dy="17">i</tspan><tspan dx="16" dy="-6"> ≠ 0 then </tspan><tspan class="s" font-size="26">enforceMerklePath</tspan><tspan class="it" font-size="18" dy="6">i</tspan><tspan dy="-6"> = 1.</tspan></text>
<text class="b" x="1465" y="2920">Balance</text>
<text x="1589" y="2920"><tspan class="s" font-size="26">v</tspan><tspan class="s" font-size="18" dy="-11">old</tspan><tspan class="s" font-size="18" dx="-24" dy="18">pub</tspan><tspan dy="-7"> + </tspan><tspan font-size="42" dy="6">∑</tspan><tspan font-size="15" dy="-30">N</tspan><tspan class="s" font-size="10" dy="-5">old</tspan><tspan class="it" font-size="15" dx="-22" dy="48">i</tspan><tspan font-size="15">=1</tspan><tspan dy="-19"> </tspan><tspan class="s" font-size="26">v</tspan><tspan class="s" font-size="18" dy="-11">old</tspan><tspan class="it" font-size="18" dx="-24" dy="17">i</tspan><tspan dx="16" dy="-6"> = </tspan><tspan class="s" font-size="26">v</tspan><tspan class="s" font-size="18" dy="-11">new</tspan><tspan class="s" font-size="18" dx="-33" dy="18">pub</tspan><tspan dy="-7"> + </tspan><tspan font-size="42" dy="6">∑</tspan><tspan font-size="15" dy="-30">N</tspan><tspan class="s" font-size="10" dy="-5">new</tspan><tspan class="it" font-size="15" dx="-24" dy="48">i</tspan><tspan font-size="15">=1</tspan><tspan dy="-19"> </tspan><tspan class="s" font-size="26">v</tspan><tspan class="s" font-size="18" dy="-11">new</tspan><tspan class="it" font-size="18" dx="-33" dy="17">i</tspan><tspan dx="26" dy="-6"> ∈ {0 .. 2</tspan><tspan class="it" font-size="18" dy="-11">ℓ</tspan><tspan class="s" font-size="12" dy="3">value</tspan><tspan dy="8">−1}.</tspan></text>
<text class="b" x="1465" y="2988">Nullifier integrity</text>
<text x="1712" y="2988">for each <tspan class="it">i</tspan> ∈ {1..N<tspan class="s" font-size="18" dy="-11">old</tspan><tspan dy="11">}: </tspan><tspan class="s" font-size="26">nf</tspan><tspan class="s" font-size="18" dy="-11">old</tspan><tspan class="it" font-size="18" dx="-24" dy="17">i</tspan><tspan dx="16" dy="-6"> = </tspan><tspan class="s" font-size="26">PRF</tspan><tspan class="s" font-size="18" dy="-11">nfSprout</tspan><tspan class="s" font-size="15" dx="-64" dy="22">a</tspan><tspan class="s" font-size="11" dy="-6">old</tspan><tspan class="s" font-size="11" dx="-15" dy="13">sk,</tspan><tspan class="it" font-size="11">i</tspan><tspan dx="37" dy="-18">(</tspan><tspan class="s" font-size="26">ρ</tspan><tspan class="s" font-size="18" dy="-11">old</tspan><tspan class="it" font-size="18" dx="-24" dy="17">i</tspan><tspan dx="16" dy="-6">).</tspan></text>
<text class="b" x="1465" y="3058">Spend authority</text>
<text x="1698" y="3058">for each <tspan class="it">i</tspan> ∈ {1..N<tspan class="s" font-size="18" dy="-11">old</tspan><tspan dy="11">}: </tspan><tspan class="s" font-size="26">a</tspan><tspan class="s" font-size="18" dy="-11">old</tspan><tspan class="s" font-size="18" dx="-24" dy="17">pk,</tspan><tspan class="it" font-size="18">i</tspan><tspan dy="-6"> = </tspan><tspan class="s" font-size="26">PRF</tspan><tspan class="s" font-size="18" dy="-11">addr</tspan><tspan class="s" font-size="15" dx="-34" dy="22">a</tspan><tspan class="s" font-size="11" dy="-6">old</tspan><tspan class="s" font-size="11" dx="-15" dy="13">sk,</tspan><tspan class="it" font-size="11">i</tspan><tspan dx="9" dy="-18">(0).</tspan></text>
<text class="b" x="1465" y="3125">Non-malleability</text>
<text x="1710" y="3125">for each <tspan class="it">i</tspan> ∈ {1..N<tspan class="s" font-size="18" dy="-11">old</tspan><tspan dy="11">}: </tspan><tspan class="s" font-size="26">h</tspan><tspan class="it" font-size="18" dy="6">i</tspan><tspan dy="-6"> = </tspan><tspan class="s" font-size="26">PRF</tspan><tspan class="s" font-size="18" dy="-11">pk</tspan><tspan class="s" font-size="15" dx="-19" dy="22">a</tspan><tspan class="s" font-size="11" dy="-6">old</tspan><tspan class="s" font-size="11" dx="-15" dy="13">sk,</tspan><tspan class="it" font-size="11">i</tspan><tspan dx="6" dy="-18"> (</tspan><tspan class="it">i</tspan>, <tspan class="s" font-size="26">h</tspan><tspan class="s" font-size="18" dy="6">Sig</tspan><tspan dy="-6">).</tspan></text>
<text x="1465" y="3193"><tspan class="b">Uniqueness of </tspan><tspan class="s" font-size="26">ρ</tspan><tspan class="s" font-size="18" dy="-11">new</tspan><tspan class="it" font-size="18" dx="-33" dy="17">i</tspan><tspan dy="-6"> </tspan></text>
<text x="1728" y="3193">for each <tspan class="it">i</tspan> ∈ {1..N<tspan class="s" font-size="18" dy="-11">new</tspan><tspan dy="11">}: </tspan><tspan class="s" font-size="26">ρ</tspan><tspan class="s" font-size="18" dy="-11">new</tspan><tspan class="it" font-size="18" dx="-33" dy="17">i</tspan><tspan dx="26" dy="-6"> = </tspan><tspan class="s" font-size="26">PRF</tspan><tspan class="s" font-size="18" dy="-11">ρ</tspan><tspan font-size="18" dx="-10" dy="18">φ</tspan><tspan dy="-7">(</tspan><tspan class="it">i</tspan>, <tspan class="s" font-size="26">h</tspan><tspan class="s" font-size="18" dy="6">Sig</tspan><tspan dy="-6">).</tspan></text>
<text class="b" x="1465" y="3250">Note commitment integrity</text>
<text x="1834" y="3250">for each <tspan class="it">i</tspan> ∈ {1..N<tspan class="s" font-size="18" dy="-11">new</tspan><tspan dy="11">}: </tspan><tspan class="s" font-size="26">cm</tspan><tspan class="s" font-size="18" dy="-11">new</tspan><tspan class="it" font-size="18" dx="-33" dy="17">i</tspan><tspan dx="26" dy="-6"> = </tspan><tspan class="s" font-size="26">NoteCommitment</tspan><tspan class="s" font-size="18" dy="-11">Sprout</tspan><tspan dy="11">(</tspan><tspan class="b">n</tspan><tspan class="s" font-size="18" dy="-11">new</tspan><tspan class="it" font-size="18" dx="-33" dy="17">i</tspan><tspan dx="26" dy="-6">).</tspan></text>
</g>
</g>
</svg>
